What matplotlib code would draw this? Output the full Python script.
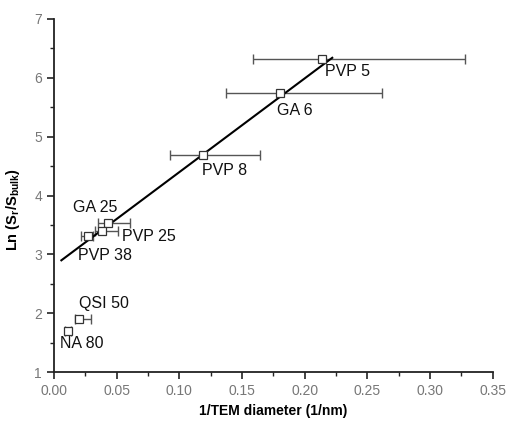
import matplotlib
matplotlib.use("Agg")
import matplotlib.pyplot as plt
from matplotlib.ticker import MultipleLocator

plt.rcParams['font.family'] = ['Liberation Sans', 'DejaVu Sans']

# data
names = ["PVP 5", "GA 6", "PVP 8", "GA 25", "PVP 25", "PVP 38", "QSI 50", "NA 80"]
inv_d = [0.214, 0.180, 0.119, 0.043, 0.038, 0.027, 0.020, 0.011]
ln_s = [6.32, 5.74, 4.69, 3.53, 3.40, 3.31, 1.90, 1.70]
err_lo = [0.159, 0.137, 0.093, 0.035, 0.033, 0.022, 0.017, 0.009]
err_hi = [0.328, 0.262, 0.164, 0.061, 0.051, 0.031, 0.030, 0.014]
fit_x = [0.006, 0.222]
fit_y = [2.90, 6.34]
# label anchors (left edge, vertical centre)
lab_x = [0.216, 0.178, 0.118, 0.015, 0.054, 0.019, 0.020, 0.005]
lab_y = [6.10, 5.44, 4.42, 3.79, 3.31, 2.99, 2.17, 1.49]

fig = plt.figure(figsize=(5.08, 4.21), dpi=100)
ax = fig.add_axes([0.106, 0.116, 0.864, 0.839])

xerr = [[x - lo for x, lo in zip(inv_d, err_lo)],
        [hi - x for x, hi in zip(inv_d, err_hi)]]
ax.errorbar(inv_d, ln_s, xerr=xerr, fmt="none", ecolor="#555555",
            elinewidth=1.0, capsize=3.5, capthick=1.0, zorder=2)
ax.plot(fit_x, fit_y, color="black", lw=1.5, zorder=3)
ax.plot(inv_d, ln_s, ls="none", marker="s", ms=5.5, mfc="white",
        mec="#333333", mew=0.9, zorder=4)

for n, x, y in zip(names, lab_x, lab_y):
    ax.text(x, y, n, fontsize=11.5, ha="left", va="center", color="#111111")

ax.set_xlim(0.0, 0.35)
ax.set_ylim(1, 7)
ax.xaxis.set_major_locator(MultipleLocator(0.05))
ax.xaxis.set_minor_locator(MultipleLocator(0.025))
ax.yaxis.set_major_locator(MultipleLocator(1))
ax.yaxis.set_minor_locator(MultipleLocator(0.5))
ax.set_xticklabels([f"{v:.2f}" for v in ax.get_xticks()])

for s in ("top", "right"):
    ax.spines[s].set_visible(False)
for s in ("left", "bottom"):
    ax.spines[s].set_linewidth(1.3)
    ax.spines[s].set_color("#222222")
ax.tick_params(which="major", direction="out", length=5, width=1.2,
               labelsize=10, labelcolor="#777777", color="#222222")
ax.tick_params(which="minor", direction="out", length=3, width=1.0,
               color="#222222")

ax.set_xlabel("1/TEM diameter (1/nm)", fontsize=10, fontweight="bold",
              labelpad=4)
ax.set_ylabel(r"Ln (S$_\mathregular{r}$/S$_\mathregular{bulk}$)", fontsize=10.5,
              fontweight="bold")
ax.yaxis.set_label_coords(-0.072, 0.46)

fig.savefig("out.png", dpi=100)
